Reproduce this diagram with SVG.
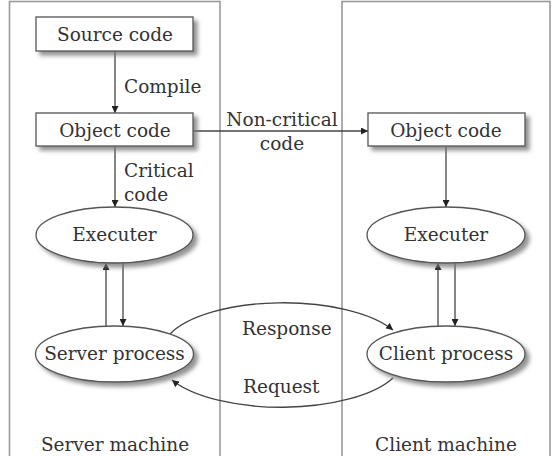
<svg xmlns="http://www.w3.org/2000/svg" width="557" height="456" viewBox="0 0 557 456">
<defs>
<style>
.frame{fill:none;stroke:#9a9a9a;stroke-width:1.6}
.node{fill:#fff;stroke:#555;stroke-width:1.3}
.edge{fill:none;stroke:#444;stroke-width:1.3}
.t{font-family:'DejaVu Serif','Liberation Serif',serif;font-size:18.5px;fill:#333}
.c{text-anchor:middle}
</style>
<filter id="sh" x="-20%" y="-30%" width="150%" height="170%">
<feDropShadow dx="4" dy="4" stdDeviation="2" flood-color="#777" flood-opacity="0.8"/>
</filter>
<marker id="ah" viewBox="0 0 8 8" refX="8" refY="4" markerWidth="7" markerHeight="7" markerUnits="userSpaceOnUse" orient="auto">
<path d="M0,0 L8,4 L0,8 z" fill="#222"/>
</marker>
</defs>
<rect width="557" height="456" fill="#fff"/>
<g id="server-machine">
<rect class="frame" x="9.5" y="1.5" width="210.5" height="470"/>
<text class="t c" x="115" y="451">Server machine</text>
</g>
<g id="client-machine">
<rect class="frame" x="342" y="1.5" width="208" height="470"/>
<text class="t c" x="446" y="451">Client machine</text>
</g>
<g id="connectors">
<line class="edge" x1="115" y1="51" x2="115" y2="113" marker-end="url(#ah)"/>
<line class="edge" x1="115" y1="146" x2="115" y2="207" marker-end="url(#ah)"/>
<line class="edge" x1="193" y1="131" x2="368" y2="131" marker-end="url(#ah)"/>
<line class="edge" x1="446" y1="146" x2="446" y2="207" marker-end="url(#ah)"/>
<line class="edge" x1="106" y1="327" x2="106" y2="263" marker-end="url(#ah)"/>
<line class="edge" x1="123" y1="263" x2="123" y2="326" marker-end="url(#ah)"/>
<line class="edge" x1="438" y1="327" x2="438" y2="263" marker-end="url(#ah)"/>
<line class="edge" x1="455" y1="263" x2="455" y2="326" marker-end="url(#ah)"/>
<path class="edge" d="M170,334 A122,49 0 0 1 393,330" marker-end="url(#ah)"/>
<path class="edge" d="M393,378 A122,49 0 0 1 172,380" marker-end="url(#ah)"/>
<text class="t" x="124" y="93">Compile</text>
<text class="t" x="124" y="177">Critical</text>
<text class="t" x="124" y="201">code</text>
<text class="t c" x="282" y="126">Non-critical</text>
<text class="t c" x="282" y="150">code</text>
<text class="t" x="242" y="335">Response</text>
<text class="t" x="243" y="393">Request</text>
</g>
<g id="source-code">
<rect class="node" filter="url(#sh)" x="36" y="17" width="157" height="34"/>
<text class="t c" x="115" y="41">Source code</text>
</g>
<g id="server-object-code">
<rect class="node" filter="url(#sh)" x="36" y="113" width="157" height="33"/>
<text class="t c" x="115" y="137">Object code</text>
</g>
<g id="client-object-code">
<rect class="node" filter="url(#sh)" x="368" y="113" width="157" height="33"/>
<text class="t c" x="446" y="137">Object code</text>
</g>
<g id="server-executer">
<ellipse class="node" filter="url(#sh)" cx="114.5" cy="235" rx="78.5" ry="28"/>
<text class="t c" x="114.5" y="241">Executer</text>
</g>
<g id="client-executer">
<ellipse class="node" filter="url(#sh)" cx="446" cy="235" rx="79" ry="28"/>
<text class="t c" x="446" y="241">Executer</text>
</g>
<g id="server-process">
<ellipse class="node" filter="url(#sh)" cx="114.5" cy="354" rx="79" ry="28"/>
<text class="t c" x="114.5" y="360">Server process</text>
</g>
<g id="client-process">
<ellipse class="node" filter="url(#sh)" cx="446" cy="354" rx="79" ry="28"/>
<text class="t c" x="446" y="360">Client process</text>
</g>
</svg>
